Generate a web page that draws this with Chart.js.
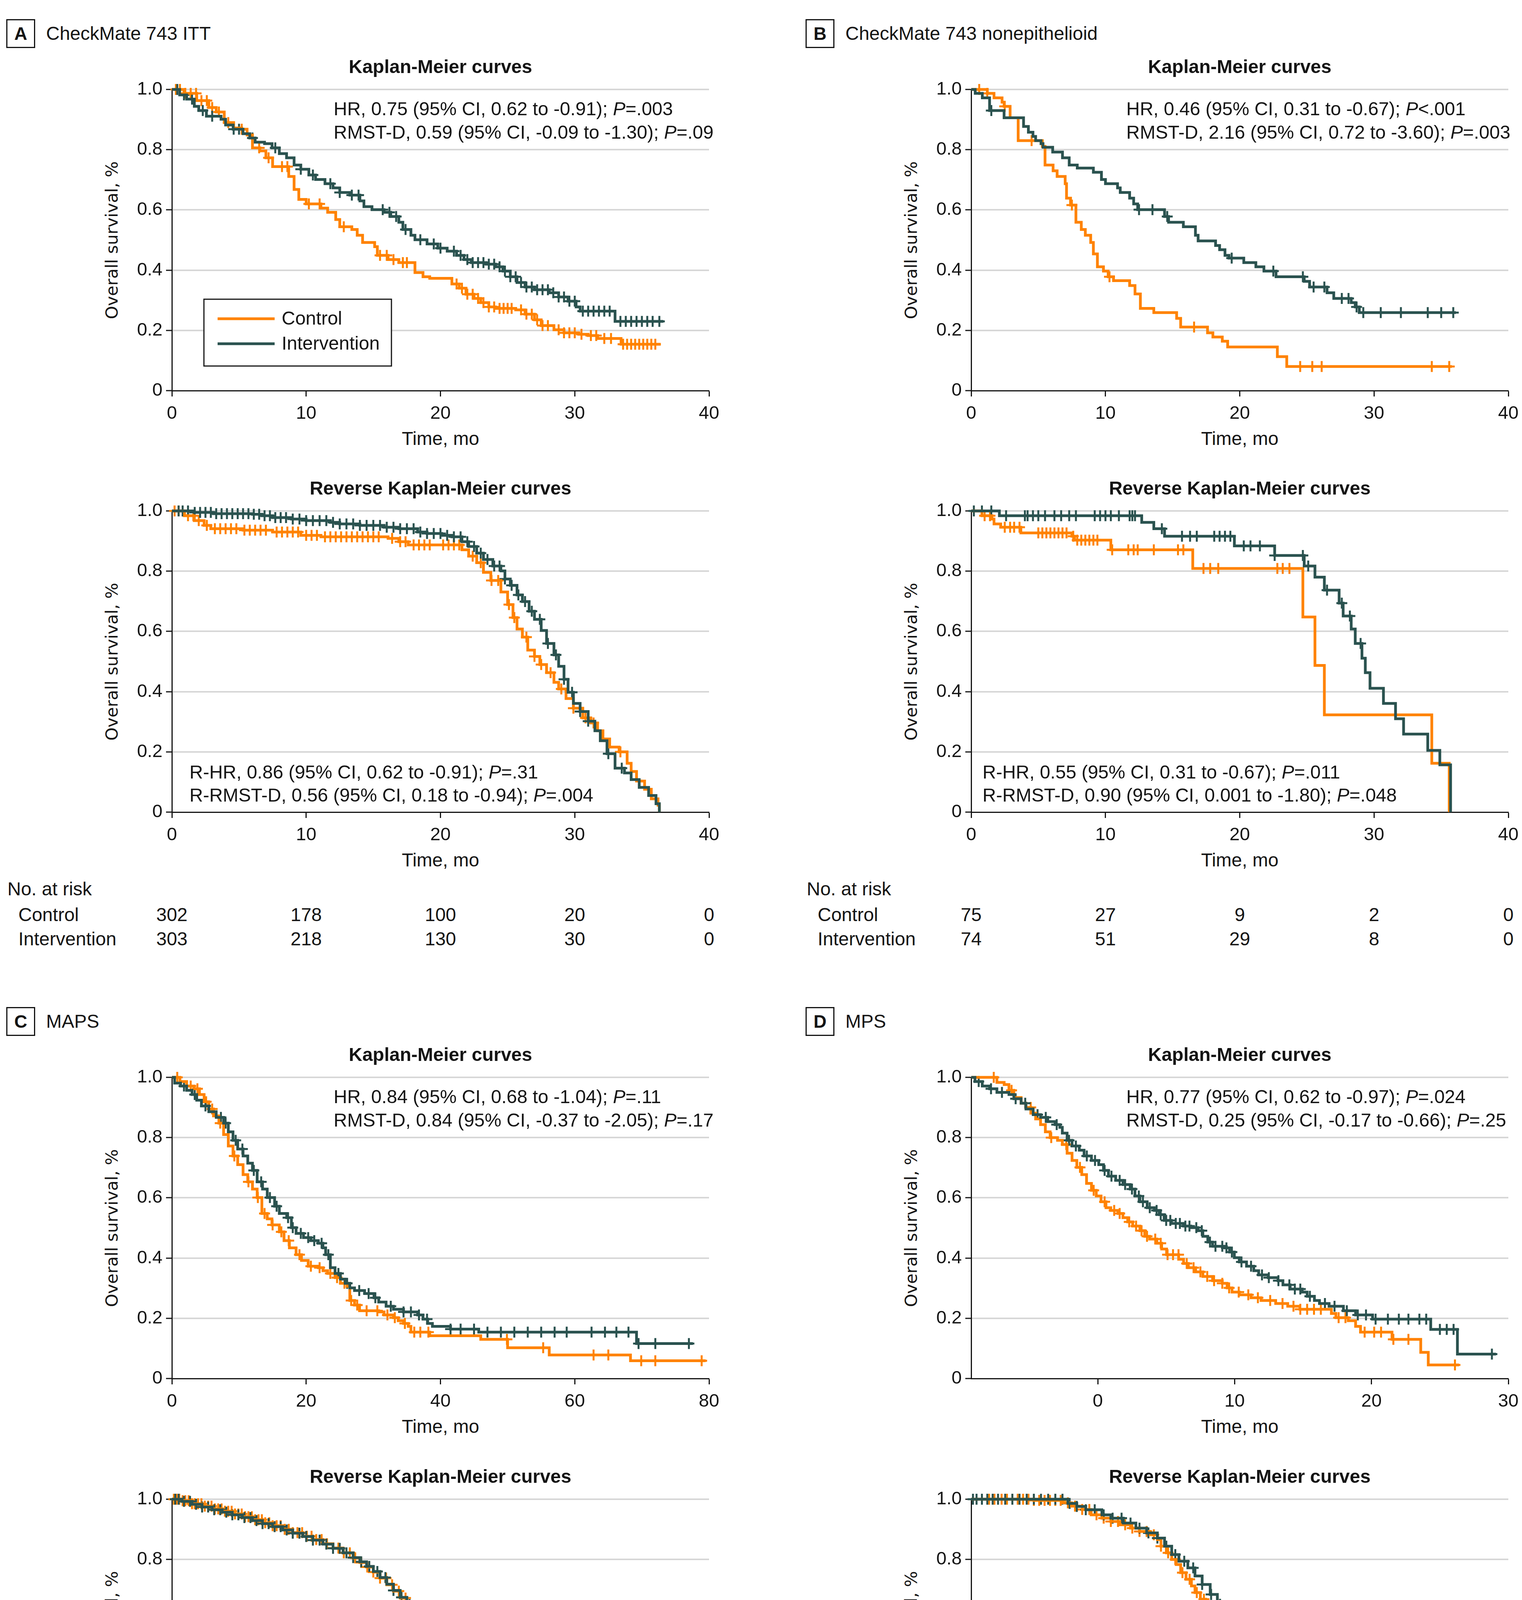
<!DOCTYPE html>
<html>
<head>
<meta charset="utf-8">
<script src="https://cdn.jsdelivr.net/npm/chart.js@4.4.1/dist/chart.umd.min.js"></script>
<style>
  body { margin: 0; width: 3896px; height: 5000px; position: relative; background: #fff; overflow: hidden;
         font-family: "Liberation Sans", Arial, sans-serif; color: #141414; }
  canvas { position: absolute; }
  .t { position: absolute; white-space: nowrap; line-height: 1; font-size: 48px; }
  .ytitle { font-family: "DejaVu Sans", Verdana, sans-serif; font-size: 43px; }
  .box { position: absolute; border: 3px solid #141414; box-sizing: border-box; font-weight: bold;
         font-size: 46px; display: flex; align-items: center; justify-content: center; }
</style>
</head>
<body>
<script>
// ---- data ----
var seriesNames = ['Control', 'Intervention'];
var yTicks = [0, 0.2, 0.4, 0.6, 0.8, 1.0];

// A: CheckMate 743 ITT
var itt_km_ctl_t = [0, 0.9, 1.85, 2.75, 3.3, 3.9, 4.6, 5.2, 5.6, 6.0, 6.55, 7.0, 7.5, 8.7, 9.1, 9.45, 10.0, 11.1, 11.6, 12.2, 12.5, 13.4, 13.8, 14.2, 15.1, 15.3, 16.1, 16.9, 18.1, 18.7, 19.2, 20.85, 21.4, 21.9, 22.5, 23.0, 23.6, 24.1, 25.6, 26.3, 27.0, 27.5, 28.45, 29.2, 30.3, 31.0, 31.7, 33.45, 36.4];
var itt_km_ctl_s = [1, .987, .963, .94, .925, .89, .872, .868, .849, .806, .796, .773, .744, .711, .668, .635, .62, .606, .592, .568, .544, .535, .516, .492, .478, .449, .435, .425, .392, .378, .373, .354, .34, .32, .306, .292, .278, .273, .268, .254, .235, .216, .202, .192, .187, .183, .173, .154, .154];
var itt_km_ctl_c = [0.3, 0.6, 1.0, 1.4, 1.8, 2.2, 2.6, 3.0, 3.5, 4.2, 5.2, 6.5, 7.2, 8.2, 8.6, 10.2, 11.0, 12.8, 15.5, 16.0, 16.5, 17.2, 17.5, 21.2, 21.6, 22.0, 22.4, 22.8, 23.2, 23.6, 24.0, 24.4, 24.7, 25.0, 25.3, 26.0, 26.4, 26.8, 27.2, 27.6, 28.0, 28.8, 29.2, 29.6, 30.0, 30.5, 31.2, 31.6, 32.2, 32.7, 33.6, 33.9, 34.2, 34.5, 34.8, 35.1, 35.4, 35.7, 36.0];
var itt_km_int_t = [0, 0.58, 1.1, 1.67, 2.0, 2.57, 3.66, 4.0, 4.56, 5.3, 5.8, 6.2, 6.9, 7.46, 8.0, 8.54, 9.1, 9.6, 10.2, 10.7, 11.4, 12.0, 12.5, 13.25, 14.0, 14.3, 14.9, 15.8, 16.3, 16.9, 17.2, 17.8, 18.1, 19.0, 19.8, 20.5, 21.2, 21.75, 22.3, 23.4, 24.1, 24.65, 25.2, 25.7, 26.3, 27.0, 28.1, 28.8, 29.5, 30.1, 30.4, 33.0, 36.6];
var itt_km_int_s = [1, .982, .968, .944, .93, .911, .901, .882, .868, .853, .839, .825, .82, .806, .787, .773, .749, .735, .716, .701, .687, .673, .658, .649, .63, .611, .601, .592, .578, .559, .535, .516, .501, .487, .473, .463, .449, .435, .425, .42, .411, .397, .378, .359, .344, .335, .325, .311, .297, .278, .264, .23, .23];
var itt_km_int_c = [0.4, 0.9, 1.5, 2.3, 3.0, 4.6, 5.0, 6.0, 7.7, 9.6, 10.5, 11.8, 12.5, 13.4, 13.9, 15.7, 16.2, 16.7, 17.4, 18.5, 19.5, 20.0, 21.0, 21.5, 22.0, 22.4, 22.8, 23.2, 23.6, 24.0, 24.4, 24.8, 25.2, 25.6, 26.0, 26.4, 26.8, 27.2, 27.6, 28.0, 28.4, 28.8, 29.2, 29.6, 30.0, 30.6, 31.0, 31.4, 31.8, 32.2, 32.6, 33.4, 33.8, 34.2, 34.6, 35.0, 35.4, 35.8, 36.3];
var itt_rev_ctl_t = [0, 0.94, 1.67, 2.4, 2.9, 5.3, 7.5, 9.6, 11.1, 16.1, 16.9, 17.6, 21.6, 22.1, 22.7, 23.2, 23.75, 24.5, 25.0, 25.4, 25.7, 26.1, 26.5, 27.0, 27.4, 27.9, 28.45, 28.8, 29.35, 29.9, 30.6, 31.2, 31.7, 32.1, 32.6, 33.3, 33.9, 34.2, 34.6, 35.2, 35.7, 36.2, 36.3];
var itt_rev_ctl_s = [1, .984, .968, .952, .941, .936, .93, .919, .914, .909, .898, .887, .871, .85, .828, .796, .769, .731, .689, .646, .608, .581, .538, .517, .49, .463, .431, .409, .377, .345, .313, .296, .27, .243, .216, .2, .162, .135, .103, .076, .044, .023, 0];
var itt_rev_ctl_c = [0.2, 0.5, 0.8, 1.2, 1.6, 2.0, 2.6, 3.2, 3.6, 4.0, 4.4, 4.8, 5.4, 5.8, 6.2, 6.6, 7.0, 7.8, 8.2, 8.6, 9.0, 9.4, 10.0, 10.4, 10.8, 11.4, 11.8, 12.2, 12.6, 13.0, 13.4, 13.8, 14.2, 14.6, 15.0, 15.4, 16.4, 17.0, 17.4, 18.0, 18.4, 18.8, 19.2, 20.2, 20.6, 21.0, 21.4, 22.4, 23.0, 23.8, 24.3, 25.1, 25.5, 26.4, 27.0, 27.5, 28.2, 29.0, 29.9, 30.8, 31.4, 33.4];
var itt_rev_int_t = [0, 1.67, 3.1, 6.0, 6.7, 7.5, 8.9, 10.0, 11.8, 12.5, 14.0, 15.8, 16.9, 18.3, 19.0, 20.1, 20.85, 21.6, 22.1, 22.7, 23.2, 23.9, 24.5, 24.8, 25.2, 25.7, 26.1, 26.6, 27.0, 27.5, 27.9, 28.45, 28.8, 29.2, 29.5, 29.9, 30.4, 31.0, 31.5, 31.9, 32.4, 33.0, 33.7, 34.2, 34.8, 35.5, 36.05, 36.3];
var itt_rev_int_s = [1, .995, .991, .989, .984, .978, .973, .968, .962, .957, .952, .946, .941, .93, .925, .919, .914, .898, .882, .86, .839, .817, .801, .774, .753, .721, .699, .667, .64, .603, .56, .522, .484, .441, .398, .361, .334, .302, .27, .237, .194, .146, .13, .108, .082, .055, .028, 0];
var itt_rev_int_c = [0.5, 0.8, 1.2, 1.7, 2.1, 2.5, 2.9, 3.3, 3.7, 4.1, 4.5, 4.9, 5.3, 5.7, 6.1, 6.5, 6.9, 7.3, 7.7, 8.1, 8.5, 9.0, 9.5, 10.0, 10.5, 11.0, 11.5, 12.0, 12.5, 13.0, 13.5, 14.0, 14.5, 15.0, 15.5, 16.0, 16.5, 17.0, 17.5, 18.0, 18.5, 19.0, 19.5, 20.0, 20.5, 21.0, 21.5, 22.0, 22.5, 23.0, 23.5, 24.0, 24.4, 24.8, 25.3, 25.8, 26.3, 26.8, 27.4, 28.0, 28.6, 29.2, 29.8, 30.4, 31.0, 32.5, 33.5];
var itt_risk_t = [0, 10, 20, 30, 40];
var itt_risk_ctl = [302, 178, 100, 20, 0];
var itt_risk_int = [303, 218, 130, 30, 0];
var itt_km_stats = ['HR, 0.75 (95% CI, 0.62 to -0.91); P=.003', 'RMST-D, 0.59 (95% CI, -0.09 to -1.30); P=.09'];
var itt_rev_stats = ['R-HR, 0.86 (95% CI, 0.62 to -0.91); P=.31', 'R-RMST-D, 0.56 (95% CI, 0.18 to -0.94); P=.004'];

// B: CheckMate 743 nonepithelioid
var nep_km_ctl_t = [0, 1.2, 1.7, 2.3, 2.45, 2.9, 3.5, 5.3, 5.5, 6.1, 6.4, 7.0, 7.1, 7.4, 7.8, 8.2, 8.5, 8.9, 9.1, 9.4, 9.85, 10.2, 10.6, 11.8, 12.2, 12.6, 13.6, 15.3, 15.6, 17.6, 18.0, 18.7, 19.1, 22.8, 23.5, 35.8];
var nep_km_ctl_s = [1, .987, .972, .958, .944, .906, .83, .811, .749, .73, .711, .687, .639, .616, .559, .535, .516, .492, .454, .411, .397, .378, .365, .349, .321, .273, .259, .24, .211, .192, .178, .164, .145, .113, .08, .08];
var nep_km_ctl_c = [0.6, 1.2, 2.5, 4.5, 7.5, 10.3, 16.6, 24.5, 25.4, 26.1, 34.3, 35.6];
var nep_km_int_t = [0, 0.3, 0.83, 1.37, 2.45, 3.9, 4.26, 4.6, 4.8, 5.2, 5.35, 6.07, 6.8, 7.3, 7.9, 9.1, 9.7, 10.0, 10.9, 11.1, 11.8, 12.1, 12.4, 14.4, 14.7, 15.8, 16.7, 16.9, 18.2, 18.5, 18.9, 19.2, 20.3, 21.2, 21.8, 22.7, 24.8, 25.2, 26.5, 27.0, 28.3, 28.6, 28.9, 36.1];
var nep_km_int_s = [1, .987, .972, .93, .906, .877, .858, .844, .83, .82, .808, .792, .773, .749, .739, .725, .701, .687, .673, .658, .639, .62, .601, .578, .559, .544, .516, .497, .482, .468, .449, .44, .425, .411, .397, .378, .363, .344, .325, .306, .292, .278, .259, .259];
var nep_km_int_c = [1.5, 12.5, 13.5, 14.6, 19.4, 22.5, 24.7, 25.5, 26.3, 27.6, 28.1, 28.7, 29.2, 30.5, 32.0, 34.0, 35.0, 35.9];
var nep_rev_ctl_t = [0, 0.8, 1.55, 1.7, 2.2, 3.7, 7.5, 7.7, 10.4, 16.5, 24.7, 25.6, 26.3, 34.3, 35.6];
var nep_rev_ctl_s = [1, .984, .973, .957, .946, .927, .916, .903, .871, .809, .648, .487, .323, .162, 0];
var nep_rev_ctl_c = [1.0, 1.4, 2.5, 2.9, 3.2, 3.6, 5.0, 5.3, 5.6, 5.9, 6.2, 6.5, 6.8, 7.1, 7.6, 7.9, 8.2, 8.5, 8.8, 9.1, 9.4, 10.5, 11.7, 12.1, 12.4, 13.6, 15.4, 15.8, 17.3, 17.8, 18.4, 22.8, 23.2, 23.7];
var nep_rev_int_t = [0, 2.1, 12.7, 13.6, 14.4, 19.6, 22.6, 24.8, 25.6, 26.3, 27.4, 27.7, 28.3, 28.6, 29.1, 29.35, 29.7, 30.7, 31.6, 32.2, 34.0, 34.9, 35.7];
var nep_rev_int_s = [1, .984, .962, .941, .916, .884, .852, .817, .78, .737, .694, .651, .608, .56, .511, .463, .411, .361, .31, .259, .205, .157, 0];
var nep_rev_int_c = [0.2, 0.8, 1.5, 2.6, 4.0, 4.2, 4.6, 5.0, 5.5, 6.2, 6.7, 7.3, 7.8, 9.2, 9.6, 10.0, 10.4, 11.0, 11.8, 12.0, 12.2, 14.2, 15.7, 16.3, 16.8, 18.1, 18.5, 18.9, 19.3, 20.3, 20.8, 21.5, 22.6, 24.7, 25.1, 26.5, 27.6, 28.2, 29.0];
var nep_risk_t = [0, 10, 20, 30, 40];
var nep_risk_ctl = [75, 27, 9, 2, 0];
var nep_risk_int = [74, 51, 29, 8, 0];
var nep_km_stats = ['HR, 0.46 (95% CI, 0.31 to -0.67); P<.001', 'RMST-D, 2.16 (95% CI, 0.72 to -3.60); P=.003'];
var nep_rev_stats = ['R-HR, 0.55 (95% CI, 0.31 to -0.67); P=.011', 'R-RMST-D, 0.90 (95% CI, 0.001 to -1.80); P=.048'];

// C: MAPS
var maps_km_ctl_t = [0, 1.2, 2.2, 3.3, 4.1, 4.8, 5.5, 6.2, 7.0, 7.7, 8.4, 9.1, 9.8, 10.6, 11.3, 12.0, 12.7, 13.4, 14.2, 14.9, 16.0, 16.7, 17.5, 18.5, 19.3, 20.3, 21.8, 22.5, 23.2, 24.3, 25.1, 26.1, 26.5, 27.2, 27.95, 30.8, 31.6, 33.0, 33.7, 34.5, 35.2, 35.6, 38.4, 46.0, 50.0, 56.2, 68.3, 79.5];
var maps_km_ctl_s = [1, .986, .971, .962, .943, .919, .895, .872, .848, .81, .772, .739, .71, .677, .653, .629, .601, .548, .53, .51, .487, .458, .434, .411, .392, .373, .368, .358, .349, .335, .316, .306, .259, .244, .225, .221, .211, .202, .192, .183, .173, .154, .142, .13, .102, .078, .059, .059];
var maps_km_ctl_c = [0.8, 2.8, 3.8, 5.1, 6.0, 7.2, 9.3, 11.4, 12.8, 13.8, 15.0, 16.3, 17.4, 19.0, 20.7, 22.0, 23.6, 24.6, 25.7, 26.7, 27.6, 29.0, 30.6, 32.1, 33.2, 34.7, 36.1, 37.0, 38.2, 49.9, 55.3, 62.8, 65.0, 69.9, 72.0, 78.9];
var maps_km_int_t = [0, 0.4, 1.3, 2.2, 3.0, 3.7, 4.4, 5.5, 6.6, 7.7, 8.4, 9.1, 9.8, 10.6, 11.3, 12.0, 12.7, 13.5, 14.2, 15.3, 16.0, 17.1, 17.8, 18.5, 19.6, 20.7, 21.8, 22.5, 22.9, 23.6, 24.3, 25.1, 25.8, 26.5, 27.2, 28.7, 30.1, 30.8, 31.9, 33.0, 34.5, 36.6, 37.4, 38.1, 38.8, 41.5, 45.7, 69.2, 77.6];
var maps_km_int_s = [1, .981, .971, .957, .943, .924, .905, .886, .867, .848, .819, .791, .762, .739, .715, .691, .653, .629, .601, .572, .548, .534, .501, .482, .468, .458, .449, .434, .411, .368, .349, .33, .316, .301, .292, .282, .268, .254, .24, .23, .221, .211, .197, .183, .173, .164, .154, .116, .116];
var maps_km_int_c = [1.8, 3.4, 5.0, 7.3, 8.0, 9.5, 10.5, 12.2, 13.3, 14.6, 15.6, 17.3, 18.0, 19.2, 20.3, 21.2, 22.3, 23.3, 24.8, 26.1, 27.9, 29.3, 30.3, 32.6, 34.5, 35.6, 36.8, 38.0, 41.5, 43.0, 45.0, 47.0, 49.0, 51.0, 53.0, 55.0, 57.0, 58.8, 62.5, 64.5, 66.2, 68.0, 69.5, 72.0, 77.0];
var maps_rev_ctl_t = [0, 1.5, 3, 4.5, 6, 7.5, 9, 10.5, 12, 13.5, 15, 16.5, 18, 19.5, 21, 22.5, 24, 25.5, 27, 28, 29, 30, 31, 32, 33, 34, 35, 36, 37, 38, 38.8, 45.1, 50.0, 55.1, 62.5, 64.9, 67.3, 69.8, 72.1, 79.0];
var maps_rev_ctl_s = [1, .995, .985, .977, .968, .96, .951, .942, .932, .922, .912, .9, .889, .877, .866, .852, .838, .822, .805, .79, .775, .758, .738, .716, .695, .672, .648, .623, .592, .557, .505, .475, .435, .393, .338, .281, .224, .151, .076, 0];
var maps_rev_ctl_c = [0.3, 0.7, 1.1, 1.6, 2.0, 2.5, 3.0, 3.4, 3.9, 4.4, 4.9, 5.4, 5.9, 6.4, 6.9, 7.4, 7.9, 8.4, 8.9, 9.4, 9.9, 10.4, 10.9, 11.4, 11.9, 12.4, 12.9, 13.4, 13.9, 14.5, 15.0, 15.6, 16.2, 16.8, 17.4, 18.0, 18.7, 19.4, 20.1, 20.8, 21.5, 22.3, 23.1, 24.0, 24.8, 25.6, 26.5, 27.3, 28.2, 29.1, 30.0, 31.0, 31.9, 32.8, 33.8, 34.8, 36.2, 37.5, 38.2, 45.8, 49.8, 50.2, 56.3, 57.4, 68.2];
var maps_rev_int_t = [0, 1.5, 3, 4.5, 6, 7.5, 9, 10.5, 12, 13.5, 15, 16.5, 18, 19.5, 21, 22.5, 24, 25.5, 27, 28, 29, 30, 31, 32, 33, 34, 35, 36, 37, 38, 38.8, 41.7, 43.9, 45.3, 47.1, 49.0, 51.0, 52.8, 54.6, 56.4, 58.2, 62.0, 63.8, 65.7, 67.8, 69.6, 71.4, 77.0];
var maps_rev_int_s = [1, .993, .983, .974, .965, .957, .948, .939, .929, .919, .909, .898, .887, .876, .864, .851, .837, .822, .806, .792, .777, .76, .74, .718, .697, .674, .65, .625, .597, .565, .519, .497, .464, .437, .409, .376, .349, .321, .29, .261, .233, .206, .175, .145, .118, .079, .039, 0];
var maps_rev_int_c = [0.5, 1.0, 1.8, 2.7, 3.6, 4.5, 5.4, 6.3, 7.2, 8.1, 9.0, 9.9, 10.8, 11.7, 12.6, 13.5, 14.4, 15.3, 16.2, 17.1, 18.0, 19.0, 20.0, 21.0, 22.0, 23.0, 24.0, 25.0, 26.0, 27.0, 28.2, 29.4, 30.6, 31.8, 33.0, 34.2, 35.4, 36.4, 37.6, 38.4, 41.7, 45.0, 69.0, 69.5];
var maps_risk_t = [0, 20, 40, 60, 80];
var maps_risk_ctl = [225, 77, 16, 7, 0];
var maps_risk_int = [223, 91, 20, 8, 0];
var maps_km_stats = ['HR, 0.84 (95% CI, 0.68 to -1.04); P=.11', 'RMST-D, 0.84 (95% CI, -0.37 to -2.05); P=.17'];
var maps_rev_stats = ['R-HR, 1.17 (95% CI, 0.79 to -1.73); P=.44', 'R-RMST-D, -0.015 (95% CI, -0.76 to -0.73); P=.97'];

// D: MPS
var mps_km_ctl_t = [-9.25, -7.37, -6.84, -6.49, -6.13, -5.6, -5.25, -4.89, -4.54, -4.18, -3.83, -3.48, -2.94, -2.59, -2.24, -1.88, -1.53, -1.17, -0.82, -0.46, -0.11, 0.24, 0.6, 0.95, 1.48, 1.84, 2.19, 2.55, 3.08, 3.43, 3.79, 4.32, 4.67, 5.03, 5.91, 6.27, 6.62, 7.15, 7.68, 8.39, 9.1, 9.45, 9.81, 10.34, 11.2, 11.93, 13.0, 13.88, 14.77, 17.07, 17.4, 18.3, 18.84, 19.2, 21.5, 23.6, 24.15, 26.4];
var mps_km_ctl_s = [1, .983, .976, .957, .933, .914, .9, .881, .862, .843, .819, .8, .791, .777, .748, .724, .701, .677, .648, .625, .606, .587, .567, .558, .548, .534, .52, .506, .491, .472, .463, .449, .43, .411, .396, .382, .368, .354, .339, .325, .316, .301, .287, .278, .268, .259, .249, .24, .23, .216, .202, .192, .173, .154, .13, .087, .045, .045];
var mps_km_ctl_c = [-7.6, -6.3, -4.9, -3.4, -2.3, -1.3, -0.3, 0.5, 1.2, 1.6, 2.3, 2.8, 3.2, 3.6, 4.2, 4.6, 5.1, 5.5, 5.9, 6.5, 7.0, 7.5, 8.0, 8.5, 9.1, 9.6, 10.3, 11.0, 11.7, 12.6, 13.5, 14.3, 14.8, 15.3, 15.8, 16.3, 17.6, 18.1, 19.5, 20.2, 20.7, 21.6, 22.7, 26.1];
var mps_km_int_t = [-9.25, -8.97, -8.44, -7.9, -7.37, -6.49, -6.13, -5.6, -5.25, -4.72, -4.18, -3.65, -3.12, -2.77, -2.59, -2.24, -1.88, -1.35, -1.0, -0.46, 0.07, 0.42, 0.78, 1.31, 1.84, 2.37, 2.72, 3.08, 3.61, 4.14, 4.49, 4.85, 5.38, 6.27, 6.8, 7.33, 7.68, 8.04, 8.39, 9.28, 9.63, 9.98, 10.34, 10.87, 11.4, 11.76, 12.46, 13.17, 13.53, 14.06, 14.94, 15.3, 15.83, 16.2, 16.9, 17.95, 18.84, 20.08, 24.33, 26.28, 29.1];
var mps_km_int_s = [1, .986, .971, .962, .95, .943, .929, .914, .895, .876, .867, .853, .843, .834, .815, .791, .772, .758, .739, .724, .71, .691, .672, .658, .644, .629, .606, .587, .567, .558, .544, .525, .515, .506, .501, .491, .472, .453, .439, .434, .42, .401, .387, .373, .358, .344, .335, .325, .311, .297, .287, .273, .259, .249, .24, .225, .211, .197, .163, .081, .081];
var mps_km_int_c = [-8.7, -7.8, -7.0, -6.0, -5.3, -4.4, -3.8, -3.0, -2.1, -1.6, -0.8, -0.2, 0.5, 1.0, 1.6, 2.0, 2.5, 3.0, 3.3, 3.8, 4.3, 4.6, 5.0, 5.3, 5.7, 6.0, 6.4, 6.7, 7.2, 7.6, 8.2, 8.6, 9.1, 9.4, 9.8, 10.5, 11.2, 12.0, 12.5, 13.2, 14.0, 14.4, 14.8, 15.5, 16.6, 17.3, 18.2, 19.0, 19.6, 20.3, 21.2, 22.0, 22.7, 23.5, 24.0, 25.0, 25.5, 26.0, 28.8];
var mps_rev_ctl_t = [0, 3.5, 5.1, 5.6, 6.2, 6.7, 7.3, 7.8, 8.3, 8.9, 9.4, 10.0, 10.4, 10.6, 10.9, 11.2, 11.45, 11.7, 12.0, 12.3, 12.5, 12.8, 13.1, 13.35, 13.6, 13.9, 14.2, 14.4, 14.7, 15.0, 15.65, 16.7, 17.3, 18.1, 18.6, 19.3, 20.7, 21.1, 21.6, 22.0, 22.4, 23.0, 23.5, 23.8, 24.5, 24.6, 27.0];
var mps_rev_ctl_s = [1, .996, .988, .977, .966, .948, .937, .926, .915, .904, .893, .882, .866, .844, .822, .8, .783, .756, .734, .712, .69, .668, .646, .635, .618, .585, .569, .547, .53, .514, .497, .475, .459, .442, .426, .398, .371, .349, .327, .299, .272, .239, .211, .173, .134, .101, 0];
var mps_rev_ctl_c = [0.6, 1.0, 1.3, 1.7, 2.0, 2.3, 2.6, 2.9, 3.2, 3.5, 3.8, 4.1, 4.4, 4.7, 5.0, 5.4, 5.8, 6.2, 6.6, 7.0, 7.4, 7.8, 8.2, 8.6, 9.0, 9.4, 9.8, 10.2, 10.6, 11.0, 11.4, 11.8, 12.2, 12.6, 13.0, 13.4, 13.8, 14.2, 14.6, 15.0, 15.5, 16.0, 16.5, 17.2, 17.8, 18.5, 19.0, 20.0, 20.3, 20.6, 21.6, 22.0, 24.2, 25.3, 25.6];
var mps_rev_int_t = [0, 5.4, 5.9, 6.4, 7.3, 7.8, 8.5, 9.2, 9.8, 10.4, 10.8, 11.2, 11.6, 12.1, 12.5, 12.9, 13.35, 13.75, 14.2, 14.6, 15.0, 15.4, 15.8, 16.2, 16.6, 17.0, 17.4, 17.8, 18.2, 18.6, 19.0, 19.4, 19.7, 21.1, 21.6, 22.0, 22.6, 23.0, 23.5, 24.0, 24.6, 25.8, 26.5, 27.1, 29.2];
var mps_rev_int_s = [1, .986, .976, .965, .948, .937, .921, .904, .888, .871, .844, .816, .794, .772, .745, .717, .684, .651, .624, .602, .585, .569, .552, .536, .514, .497, .481, .459, .437, .42, .398, .376, .354, .321, .299, .272, .244, .228, .206, .184, .156, .134, .107, .055, 0];
var mps_rev_int_c = [0.1, 0.3, 0.6, 0.9, 1.2, 1.5, 1.9, 2.3, 2.7, 3.1, 3.5, 3.9, 4.3, 4.7, 5.1, 5.5, 5.9, 6.4, 6.9, 7.4, 7.9, 8.4, 8.9, 9.4, 9.9, 10.4, 10.9, 11.4, 11.9, 12.4, 12.9, 13.4, 13.9, 14.4, 14.9, 15.4, 15.9, 16.4, 16.9, 17.4, 17.9, 18.4, 19.0, 19.6, 20.7, 22.5, 25.4, 26.8, 27.2];
var mps_risk_t = [0, 10, 20, 30];
var mps_risk_ctl = [222, 91, 19, 0];
var mps_risk_int = [226, 111, 19, 0];
var mps_km_stats = ['HR, 0.77 (95% CI, 0.62 to -0.97); P=.024', 'RMST-D, 0.25 (95% CI, -0.17 to -0.66); P=.25'];
var mps_rev_stats = ['R-HR, 0.93 (95% CI, 0.60 to -0.97); P=.67', 'R-RMST-D, 0.019 (95% CI, -0.14 to -0.18); P=.81'];

// ---- drawing ----
var FONT = '"Liberation Sans", Arial, sans-serif';
var INK = '#141414';
var ORANGE = '#ff8200';
var TEAL = '#2a524f';
var GRID = '#d7d7d7';
var PW = 1375, PH = 771;           // plot area size
var PADL = 120, PADT = 40, PADR = 60, PADB = 80;

function stepAt(ts, ss, t) {
  var v = ss[0];
  for (var i = 0; i < ts.length; i++) { if (ts[i] <= t) v = ss[i]; }
  return v;
}
function curve(ts, ss) { return ts.map(function (t, i) { return { x: t, y: ss[i] }; }); }
function marks(ts, ss, cs) { return cs.map(function (c) { return { x: c, y: stepAt(ts, ss, c) }; }); }

function text(html, x, y, cls, align) {
  var d = document.createElement('div');
  d.className = 't' + (cls ? ' ' + cls : '');
  d.innerHTML = html;
  d.style.left = x + 'px';
  d.style.top = y + 'px';
  var tx = align === 'center' ? '-50%' : (align === 'right' ? '-100%' : '0');
  d.style.transform = 'translate(' + tx + ',-50%)';
  document.body.appendChild(d);
  return d;
}
function statHtml(s) { return s.replace('; P', '; <i>P</i>'); }

var legendBox = {
  id: 'legendBox',
  afterDatasetsDraw: function (chart) {
    var a = chart.chartArea, ctx = chart.ctx;
    var bx = a.left + 82, by = a.top + 537, bw = 480, bh = 171;
    var cols = [ORANGE, TEAL];
    ctx.save();
    ctx.fillStyle = '#fff';
    ctx.fillRect(bx, by, bw, bh);
    ctx.lineWidth = 3;
    ctx.strokeStyle = INK;
    ctx.strokeRect(bx, by, bw, bh);
    ctx.font = '48px ' + FONT;
    ctx.textBaseline = 'middle';
    seriesNames.forEach(function (name, i) {
      var y = by + 50 + i * 64;
      ctx.strokeStyle = cols[i];
      ctx.lineWidth = 7;
      ctx.beginPath(); ctx.moveTo(bx + 35, y); ctx.lineTo(bx + 181, y); ctx.stroke();
      ctx.fillStyle = INK;
      ctx.fillText(name, bx + 199, y + 2);
    });
    ctx.restore();
  }
};

function plot(px, py, xMin, xMax, xTicks, ctl, itv, withLegend) {
  var c = document.createElement('canvas');
  var w = PW + PADL + PADR, h = PH + PADT + PADB;
  c.width = w; c.height = h;
  c.style.left = (px - PADL) + 'px';
  c.style.top = (py - PADT) + 'px';
  c.style.width = w + 'px'; c.style.height = h + 'px';
  document.body.appendChild(c);
  var lineDs = function (g, col, name) {
    return { type: 'line', label: name, data: curve(g[0], g[1]), borderColor: col, backgroundColor: col,
             borderWidth: 7, stepped: true, pointRadius: 0, fill: false, clip: false };
  };
  var markDs = function (g, col, name) {
    return { type: 'scatter', label: name + ' censored', data: marks(g[0], g[1], g[2]), borderColor: col,
             backgroundColor: col, pointStyle: 'cross', pointRadius: 14, borderWidth: 5, showLine: false, clip: false };
  };
  var chart = new Chart(c, {
    type: 'line',
    data: { datasets: [
      lineDs(itv, TEAL, seriesNames[1]), lineDs(ctl, ORANGE, seriesNames[0]),
      markDs(itv, TEAL, seriesNames[1]), markDs(ctl, ORANGE, seriesNames[0])
    ] },
    options: {
      responsive: false, animation: false, devicePixelRatio: 1,
      layout: { padding: { top: PADT, right: PADR, left: 0, bottom: 0 } },
      plugins: { legend: { display: false }, tooltip: { enabled: false }, title: { display: false } },
      scales: {
        x: {
          type: 'linear', min: xMin, max: xMax,
          afterBuildTicks: function (s) { s.ticks = xTicks.map(function (v) { return { value: v }; }); },
          afterFit: function (s) { s.height = PADB; },
          grid: { drawOnChartArea: false, drawTicks: true, tickLength: 15, tickWidth: 3, tickColor: INK, color: INK },
          border: { display: true, color: INK, width: 3 },
          ticks: { font: { family: FONT, size: 47 }, color: INK, padding: 16, maxRotation: 0, autoSkip: false,
                   callback: function (v) { return String(v); } }
        },
        y: {
          min: 0, max: 1,
          afterBuildTicks: function (s) { s.ticks = yTicks.map(function (v) { return { value: v }; }); },
          afterFit: function (s) { s.width = PADL; },
          grid: { color: function (ctx) { return ctx.tick && ctx.tick.value === 0 ? 'rgba(0,0,0,0)' : GRID; },
                  lineWidth: 4, tickLength: 15, tickWidth: 3, tickColor: INK, drawTicks: true },
          border: { display: true, color: INK, width: 3 },
          ticks: { font: { family: FONT, size: 47 }, color: INK, padding: 9,
                   callback: function (v) { return v === 0 ? '0' : v.toFixed(1); } }
        }
      }
    },
    plugins: withLegend ? [legendBox] : []
  });
  chart._ox = px - PADL;
  return chart;
}

function panel(p) {
  var km = plot(p.x, p.kmTop, p.kmMin, p.xMax, p.ticksKm, p.km[0], p.km[1], p.legend);
  var rv = plot(p.x, p.revTop, 0, p.xMax, p.ticksRev, p.rev[0], p.rev[1], false);
  var cx = p.x + PW / 2;
  // panel heading
  var b = document.createElement('div');
  b.className = 'box'; b.textContent = p.letter;
  b.style.left = (p.x - 424) + 'px'; b.style.top = (p.kmTop - 180) + 'px';
  b.style.width = '74px'; b.style.height = '74px';
  document.body.appendChild(b);
  text(p.name, p.x - 322, p.kmTop - 143, '', 'left');
  [[p.kmTop, 'Kaplan-Meier curves'], [p.revTop, 'Reverse Kaplan-Meier curves']].forEach(function (r) {
    var top = r[0], bottom = r[0] + PH;
    text('<b>' + r[1] + '</b>', cx, top - 58, '', 'center');
    text('Overall survival, %', p.x - 154, top + PH / 2, 'ytitle', 'center').style.transform = 'translate(-50%,-50%) rotate(-90deg)';
    text('Time, mo', cx, bottom + 123, '', 'center');
  });
  text(statHtml(p.kmStats[0]), p.x + p.statKmX, p.kmTop + 50, '', 'left');
  text(statHtml(p.kmStats[1]), p.x + p.statKmX, p.kmTop + 110, '', 'left');
  var rb = p.revTop + PH;
  text(statHtml(p.revStats[0]), p.x + p.statRevX, rb - 102, '', 'left');
  text(statHtml(p.revStats[1]), p.x + p.statRevX, rb - 43, '', 'left');
  // numbers at risk, placed under the reverse plot's x scale
  text('No. at risk', p.x - 421, rb + 197, '', 'left');
  text(seriesNames[0], p.x - 393, rb + 263, '', 'left');
  text(seriesNames[1], p.x - 393, rb + 325, '', 'left');
  p.riskT.forEach(function (t, i) {
    var xx = rv._ox + rv.scales.x.getPixelForValue(t);
    text(String(p.riskCtl[i]), xx, rb + 263, '', 'center');
    text(String(p.riskInt[i]), xx, rb + 325, '', 'center');
  });
}

panel({ letter: 'A', name: 'CheckMate 743 ITT', x: 440, kmTop: 229, revTop: 1308, kmMin: 0, xMax: 40,
        ticksKm: [0, 10, 20, 30, 40], ticksRev: [0, 10, 20, 30, 40], legend: true, statKmX: 414, statRevX: 45,
        km: [[itt_km_ctl_t, itt_km_ctl_s, itt_km_ctl_c], [itt_km_int_t, itt_km_int_s, itt_km_int_c]],
        rev: [[itt_rev_ctl_t, itt_rev_ctl_s, itt_rev_ctl_c], [itt_rev_int_t, itt_rev_int_s, itt_rev_int_c]],
        kmStats: itt_km_stats, revStats: itt_rev_stats, riskT: itt_risk_t, riskCtl: itt_risk_ctl, riskInt: itt_risk_int });
panel({ letter: 'B', name: 'CheckMate 743 nonepithelioid', x: 2486, kmTop: 229, revTop: 1308, kmMin: 0, xMax: 40,
        ticksKm: [0, 10, 20, 30, 40], ticksRev: [0, 10, 20, 30, 40], legend: false, statKmX: 397, statRevX: 29,
        km: [[nep_km_ctl_t, nep_km_ctl_s, nep_km_ctl_c], [nep_km_int_t, nep_km_int_s, nep_km_int_c]],
        rev: [[nep_rev_ctl_t, nep_rev_ctl_s, nep_rev_ctl_c], [nep_rev_int_t, nep_rev_int_s, nep_rev_int_c]],
        kmStats: nep_km_stats, revStats: nep_rev_stats, riskT: nep_risk_t, riskCtl: nep_risk_ctl, riskInt: nep_risk_int });
panel({ letter: 'C', name: 'MAPS', x: 440, kmTop: 2758, revTop: 3838, kmMin: 0, xMax: 80,
        ticksKm: [0, 20, 40, 60, 80], ticksRev: [0, 20, 40, 60, 80], legend: false, statKmX: 414, statRevX: 45,
        km: [[maps_km_ctl_t, maps_km_ctl_s, maps_km_ctl_c], [maps_km_int_t, maps_km_int_s, maps_km_int_c]],
        rev: [[maps_rev_ctl_t, maps_rev_ctl_s, maps_rev_ctl_c], [maps_rev_int_t, maps_rev_int_s, maps_rev_int_c]],
        kmStats: maps_km_stats, revStats: maps_rev_stats, riskT: maps_risk_t, riskCtl: maps_risk_ctl, riskInt: maps_risk_int });
panel({ letter: 'D', name: 'MPS', x: 2486, kmTop: 2758, revTop: 3838, kmMin: -9.25, xMax: 30,
        ticksKm: [0, 10, 20, 30], ticksRev: [0, 10, 20, 30], legend: false, statKmX: 397, statRevX: 29,
        km: [[mps_km_ctl_t, mps_km_ctl_s, mps_km_ctl_c], [mps_km_int_t, mps_km_int_s, mps_km_int_c]],
        rev: [[mps_rev_ctl_t, mps_rev_ctl_s, mps_rev_ctl_c], [mps_rev_int_t, mps_rev_int_s, mps_rev_int_c]],
        kmStats: mps_km_stats, revStats: mps_rev_stats, riskT: mps_risk_t, riskCtl: mps_risk_ctl, riskInt: mps_risk_int });
</script>
</body>
</html>
